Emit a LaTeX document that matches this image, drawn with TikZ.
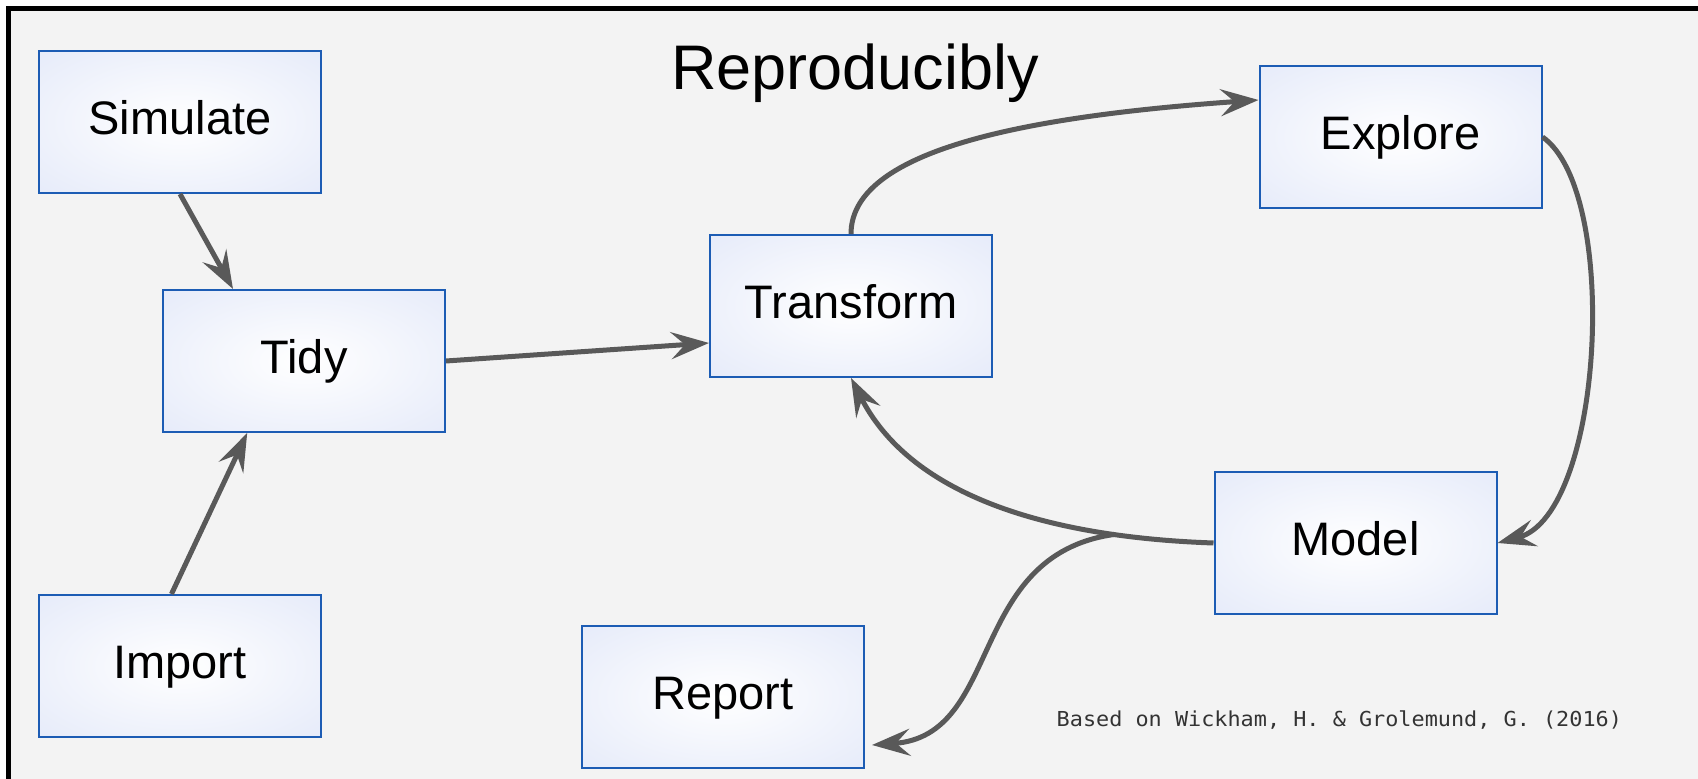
\documentclass[tikz,border=0pt]{standalone}
\usepackage{fontspec}
\setmainfont{Liberation Sans}
\newfontfamily\notefont[FakeStretch=1.06]{DejaVu Sans Mono}
\usepackage{xcolor}
\usetikzlibrary{arrows.meta, positioning, calc}
\definecolor{panel}{RGB}{243,243,243}
\definecolor{boxedge}{RGB}{220,227,247}
\definecolor{boxline}{RGB}{28,92,180}
\definecolor{flowgray}{RGB}{89,89,89}
\definecolor{notegray}{RGB}{51,51,51}
\pgfdeclareradialshading{stagefill}{\pgfpoint{0bp}{0bp}}{color(0bp)=(white); color(50bp)=(boxedge)}

\begin{document}
\begin{tikzpicture}[x=1pt,y=1pt,>={Stealth[length=38pt,width=27pt,inset=14pt]},
                    every node/.style={font=\fontsize{47}{56}\selectfont}]
                \tikzset{stage/.style={draw=boxline, line width=2pt, shading=stagefill,
                                       minimum width=282pt, minimum height=142pt, inner sep=0pt,
                                       text height=34pt, text depth=9pt}}
                \tikzset{flow/.style={->, draw=flowgray, line width=5pt}}

                \useasboundingbox (0,0) rectangle (1698,779);
                \clip (0,0) rectangle (1698,779);
                \fill[white] (0,0) rectangle (1698,779);
                \draw[line width=5pt, fill=panel] (8.5,770.5) rectangle (1730,-30);

                \node[font=\fontsize{63}{76}\selectfont] (title) at (855,705.5) {Reproducibly};

                \node[stage] (simulate) at (180,657) {Simulate};
                \node[stage] (tidy) [below=95pt of simulate, xshift=124pt] {Tidy};
                \node[stage] (import) [below=400pt of simulate] {Import};
                \node[stage] (transform) [right=263pt of tidy, yshift=55pt] {Transform};
                \node[stage] (explore) [right=265.5pt of transform, yshift=169pt] {Explore};
                \node[stage] (model) [below=262pt of explore, xshift=-45pt] {Model};
                \node[stage] (report) [below=247pt of transform, xshift=-128pt] {Report};

                \node[anchor=base west, inner sep=0pt, text=notegray,
                      font=\notefont\fontsize{20.6}{24}\selectfont\frenchspacing] (credit) at (1056.5,52.3)
                      {Based on Wickham, H. \& Grolemund, G. (2016)};

                \draw[flow] (simulate.south) -- ($(tidy.north west)!.25!(tidy.north east)$);
                \draw[flow] ($(import.north west)!.47!(import.north east)$) -- ($(tidy.south west)!.3!(tidy.south east)$);
                \draw[flow] (tidy.east) -- ([yshift=-37pt]transform.west);
                \draw[flow] (transform.north) to[out=90, in=184, out distance=80pt, in distance=250pt] ([yshift=37pt]explore.west);
                \draw[flow] (explore.east) to[out=-35, in=15, out distance=95pt, in distance=110pt] (model.east);
                \draw[flow] (model.west) to[out=178, in=-63, out distance=175pt, in distance=128pt]
                      coordinate[pos=0.2] (fork) (transform.south);
                \draw[flow] (fork) to[out=188, in=4, out distance=150pt, in distance=132pt] ([xshift=7pt, yshift=-48pt]report.east);
            \end{tikzpicture}
\end{document}
